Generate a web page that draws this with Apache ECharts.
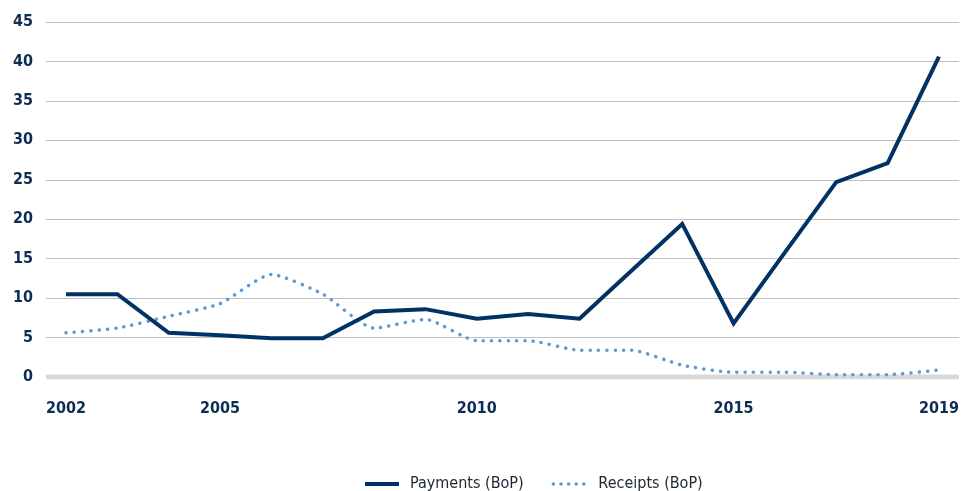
<!DOCTYPE html>
<html>
<head>
<meta charset="utf-8">
<script src="https://cdn.jsdelivr.net/npm/echarts@6/dist/echarts.min.js"></script>
<style>html,body{margin:0;padding:0;background:#fff;}#c{width:967px;height:491px;}</style>
</head>
<body>
<div id="c"></div>
<script>
const years = [2002,2003,2004,2005,2006,2007,2008,2009,2010,2011,2012,2013,2014,2015,2016,2017,2018,2019];
const payments = [10.5,10.5,5.6,5.3,4.9,4.9,8.3,8.6,7.4,8.0,7.4,13.4,19.4,6.8,15.8,24.7,27.1,40.6];
const receipts = [5.6,6.2,7.7,9.3,13.0,10.5,6.2,7.3,4.6,4.6,3.4,3.4,1.5,0.6,0.6,0.3,0.3,0.9];
const xTickLabels = [2002,2005,2010,2015,2019];
const seriesNames = ['Payments (BoP)','Receipts (BoP)'];

const FONT = '"Liberation Sans Narrow","DejaVu Sans Condensed","Roboto Condensed","Open Sans",sans-serif';
const chart = echarts.init(document.getElementById('c'), null, {renderer:'canvas'});
chart.setOption({
  animation:false,
  grid:{left:46,right:8,top:22,bottom:114,containLabel:false},
  legend:{
    bottom:-6,left:358,itemWidth:34,itemHeight:10,itemGap:28,
    itemStyle:{opacity:0},
    textStyle:{fontFamily:FONT,fontSize:16,color:'#1b2733',padding:[0,0,0,6]},
    data:[
      {name:seriesNames[0],lineStyle:{width:4,color:'#003263'}},
      {name:seriesNames[1],lineStyle:{width:3.5,color:'#5b9bd5',type:[0.1,7.5],cap:'round'}}
    ]
  },
  xAxis:{
    type:'value',min:2001.61,max:2019.39,
    axisLine:{show:false},
    axisTick:{show:false},
    splitLine:{show:false},
    axisLabel:{customValues:xTickLabels,margin:24,fontFamily:FONT,fontSize:16,fontWeight:'bold',color:'#0d2d52',formatter:v=>String(v)}
  },
  yAxis:{
    type:'value',min:0,max:45,interval:5,
    axisLine:{show:false},axisTick:{show:false},
    axisLabel:{margin:13,fontFamily:FONT,fontSize:16,fontWeight:'bold',color:'#0d2d52'},
    splitLine:{lineStyle:{color:'#bfbfbf',width:1}}
  },
  series:[
    {
      name:seriesNames[0],type:'line',symbol:'none',
      data:years.map((y,i)=>[y,payments[i]]),
      lineStyle:{color:'#003263',width:4,join:'miter'},
      itemStyle:{color:'#003263'},z:3
    },
    {
      name:seriesNames[1],type:'line',symbol:'none',smooth:0.2,
      data:years.map((y,i)=>[y,receipts[i]]),
      lineStyle:{color:'#5b9bd5',width:3.5,type:[0.1,8.2],cap:'round'},
      itemStyle:{color:'#5b9bd5'},z:2
    },
    {
      name:'axis',type:'line',symbol:'none',silent:true,
      data:[[2001.61,0],[2019.39,0]],
      lineStyle:{color:'#d9d9d9',width:5},z:1
    }
  ]
});
</script>
</body>
</html>
